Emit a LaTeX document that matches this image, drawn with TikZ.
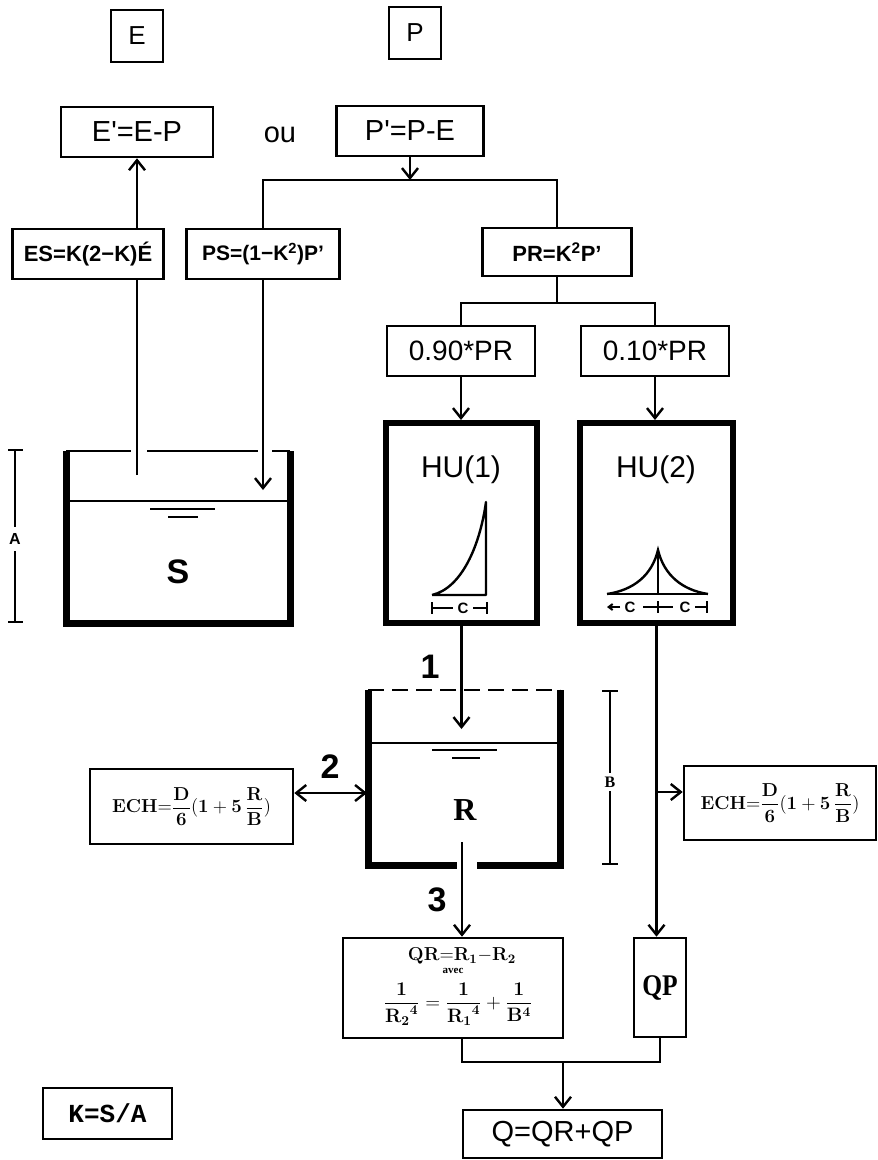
\documentclass[tikz,border=0pt]{standalone}
\usepackage{graphicx}
\usepackage[no-math]{fontspec}
\setmainfont{Liberation Sans}
\newfontfamily\serifb{Liberation Serif}
\newfontfamily\monof{Liberation Mono}
\usetikzlibrary{arrows.meta}
\newcommand{\echform}{$\displaystyle\mathbf{ECH}{=}\frac{\mathbf{D}}{\mathbf{6}}\mathbf{(1}+\mathbf{5}\,\frac{\mathbf{R}}{\mathbf{B}}\mathbf{)}$}
\newcommand{\qrone}{$\mathbf{QR{=}R_1{-}R_2}$}
\newcommand{\qrthree}{$\displaystyle\frac{\mathbf 1}{{\mathbf R_{\mathbf 2}}^{\mathbf 4}}=\frac{\mathbf 1}{{\mathbf R_{\mathbf 1}}^{\mathbf 4}}+\frac{\mathbf 1}{\mathbf B^{\mathbf 4}}$}
\tikzset{
  box/.style={draw, line width=2.6pt, inner sep=0pt, align=center},
  hubox/.style={draw, line width=6pt, minimum width=151pt, minimum height=200pt},
  conn/.style={line width=2.4pt},
  tipb/.tip={Straight Barb[length=10pt,width=16pt,line width=2.4pt]},
  arr/.style={conn, -tipb},
  wall/.style={line width=7pt, line join=miter},
  thin/.style={line width=2pt},
  fs/.style={font=\fontsize{#1}{#1}\selectfont},
  fb/.style={font=\fontsize{#1}{#1}\selectfont\bfseries},
  fsb/.style={font=\fontsize{#1}{#1}\selectfont\serifb\bfseries},
}
\begin{document}
\begin{tikzpicture}[x=1pt,y=-1pt]
\useasboundingbox (0,0) rectangle (878,1160);

% top boxes
\node[box, minimum width=52pt, minimum height=52pt, fs=26] (E) at (137,36) {E};
\node[box, minimum width=52pt, minimum height=52pt, fs=26] (P) at (415,33) {P};
\node[box, minimum width=152pt, minimum height=50pt, fs=29] (Ep) at (137,132) {E\textquotesingle=E-P};
\node[fs=29] (ou) at (280,135) {ou};
\node[box, minimum width=147pt, minimum height=50pt, fs=29] (Pp) at (410,131) {P\textquotesingle=P-E};

\node[box, minimum width=151pt, minimum height=50pt, fb=22] (ES) at (88,254) {ES=K(2−K)É};
\node[box, minimum width=153pt, minimum height=50pt, fb=21] (PS) at (263,254) {PS=(1−K\textsuperscript{2})P\textquoteright};
\node[box, minimum width=149pt, minimum height=48pt, fb=22] (PR) at (557,252) {PR=K\textsuperscript{2}P\textquoteright};

\coordinate (h1) at (0,180);
\coordinate (h2) at (0,303);
\draw[arr] (Pp.south) -- (Pp.south |- h1);
\draw[conn] (PS.north) -- (PS.north |- h1) -- (PR.north |- h1) -- (PR.north);
\draw[arr] (ES.north -| Ep.south) -- (Ep.south);

% split of PR
\node[box, minimum width=148pt, minimum height=50pt, fs=28] (n90) at (461,351) {0.90*PR};
\node[box, minimum width=148pt, minimum height=50pt, fs=28] (n10) at (655,351) {0.10*PR};
\draw[conn] (PR.south) -- (PR.south |- h2);
\draw[conn] (n90.north) -- (n90.north |- h2) -- (n10.north |- h2) -- (n10.north);

% HU boxes
\node[hubox] (HU1) at (461.5,523) {};
\node[hubox, minimum width=153pt] (HU2) at (656.5,523) {};
\draw[arr] (n90.south) -- (n90.south |- HU1.north);
\draw[arr] (n10.south) -- (n10.south |- HU2.north);
\node[fs=30] (hu1t) at (461,470) {HU(1)};
\node[fs=30] (hu2t) at (656,470) {HU(2)};

% HU(1) hydrograph
\draw[conn, line join=round] (432,595) -- (486,595) -- (486,502) .. controls (480,545) and (462,588) .. (432,595);
\draw[thin] (432,602) -- (432,614) (432,608) -- (453,608);
\node[fb=15] (c1) at (463,608) {C};
\draw[thin] (473,608) -- (487,608) (487,602) -- (487,614);
% HU(2) hydrograph
\draw[conn] (607,594) -- (708,594);
\draw[conn] (607,594) .. controls (634,590) and (652,575) .. (658,550) .. controls (664,575) and (682,590) .. (708,594);
\draw[conn] (658,550) -- (658,594);
\draw[thin, -{Straight Barb[length=4pt,width=6pt]}] (620,607) -- (607,607);
\node[fb=15] (c2) at (630,607) {C};
\draw[thin] (643,607) -- (673,607) (658,601) -- (658,613);
\node[fb=15] (c3) at (685,607) {C};
\draw[thin] (695,607) -- (707,607) (707,601) -- (707,613);

% tank S
\draw[wall] (66,451) -- (66,623) -- (290,623) -- (290,451);
\draw[conn] (66,451) -- (131,451) (147,451) -- (258,451) (272,451) -- (290,451);
\draw[conn] (66,501) -- (290,501);
\draw[thin] (150,509) -- (215,509) (168,517) -- (198,517);
\node[fb=34] (S) at (178,572) {S};
\coordinate (sout) at (137,475);
\coordinate (psin) at (263,490);
\draw[conn] (sout) -- (sout |- ES.south);
\draw[arr] (PS.south) -- (psin);
% dimension A
\draw[conn] (15,450) -- (15,527) (15,551) -- (15,622) (8,450) -- (23,450) (8,622) -- (23,622);
\node[fb=16] (A) at (15,539) {A};

% tank R
\draw[wall] (368,690) -- (368,865) -- (457,865);
\draw[wall] (477,865) -- (560,865) -- (560,690);
\draw[conn, dash pattern=on 16pt off 8pt] (368,690) -- (560,690);
\draw[conn] (368,743) -- (560,743);
\draw[thin] (432,750) -- (497,750) (452,758) -- (480,758);
\node[fsb=32] (R) at (465,810) {R};
\coordinate (rin) at (461.5,729);
\coordinate (rout) at (462,842);
\coordinate (lw) at (367,793);
\draw[arr] (HU1.south) -- (rin);
\node[fb=34] (l1) at (430,667) {1};
\node[fb=34] (l2) at (330,767) {2};
\node[fb=34] (l3) at (437,900) {3};
% dimension B
\draw[conn] (610,691) -- (610,773) (610,791) -- (610,864) (602,691) -- (618,691) (602,864) -- (618,864);
\node[fsb=16] (B) at (610,782) {B};

% exchange boxes
\node[box, minimum width=203pt, minimum height=75pt] (ECHL) at (191.5,806.5) {};
\node[fs=14] (echlt) at (ECHL.center) {\scalebox{1.3}{\echform}};
\node[box, minimum width=192pt, minimum height=74pt] (ECHR) at (780,803) {};
\node[fs=14] (echrt) at (ECHR.center) {\scalebox{1.3}{\echform}};
\draw[conn, tipb-tipb] (lw -| ECHL.east) -- (lw);
\coordinate (br) at (657.5,792);
\draw[arr] (br) -- (br -| ECHR.west);

% outputs
\node[box, minimum width=220pt, minimum height=100pt] (QR) at (453,988) {};
\node[fs=14] (qr1) at (462,956) {\scalebox{1.3}{\qrone}};
\node[fsb=11] (qr2) at (453,971) {avec};
\node[fs=14] (qr3) at (458,1004) {\scalebox{1.35}{\qrthree}};
\node[box, minimum width=52pt, minimum height=99pt, fsb=30] (QP) at (660,987.5) {\scalebox{0.85}[1]{QP}};
\draw[arr] (rout) -- (rout |- QR.north);
\draw[arr] (HU2.south) -- (HU2.south |- QP.north);

\node[box, minimum width=199pt, minimum height=48pt, fs=29] (Q) at (562.5,1134) {Q=QR+QP};
\coordinate (j) at (563,1062);
\draw[conn] (rout |- QR.south) -- (rout |- j) -- (QP.south |- j) -- (QP.south);
\draw[arr] (j) -- (j |- Q.north);

\node[box, minimum width=129pt, minimum height=51pt, font=\fontsize{26}{26}\selectfont\monof\bfseries] (K) at (107.5,1113.5) {K=S/A};
\end{tikzpicture}
\end{document}
